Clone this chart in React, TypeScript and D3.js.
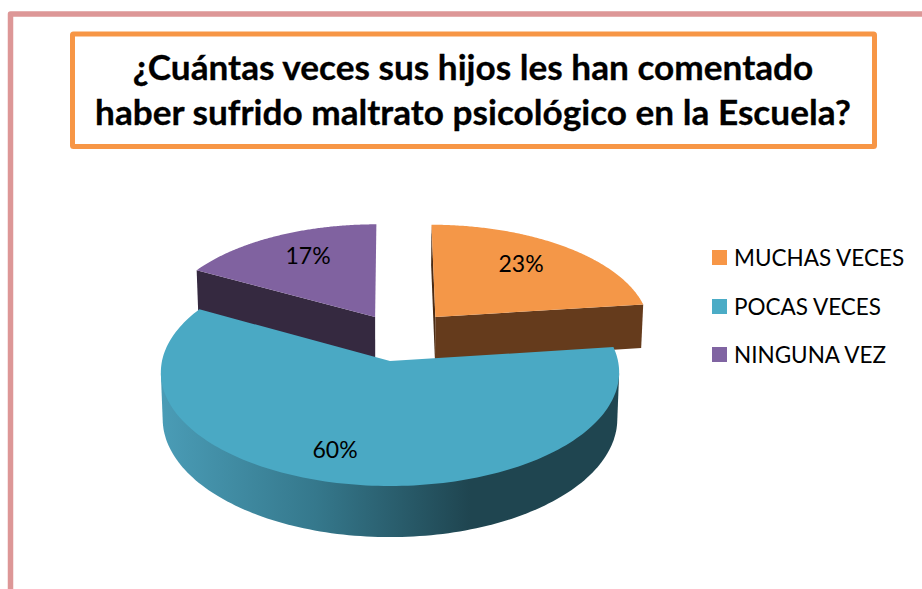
import React from "react";
import * as d3 from "d3";

const categories = ["MUCHAS VECES", "POCAS VECES", "NINGUNA VEZ"];
const values = [23, 60, 17];
const colors = ["#F79646", "#4BACC6", "#8064A2"];
const topColors = ["#F49748", "#4AA9C4", "#8062A0"];
const wallColors = ["#653B1C", "#4A9CB6", "#352940"];
const titleLines = ["¿Cuántas veces sus hijos les han comentado", "haber sufrido maltrato psicológico en la Escuela?"];
const explodeU = [0.207, 0, -0.068];
const explodeV = [0.408, 0, 0.408];
const sliceRadius = [0.97, 1, 0.975];
const labelX = [521, 335, 308];
const labelY = [272, 458, 264];
const legendY = [250, 299, 347];

const W = 922, H = 589;
const cx = 390, cy = 361, Rx = 228, Ry = 112.5, K = 0.1, DEPTH = 46, BOTTOM_SHRINK = 0.992;
const FONT = "Lato, Carlito, 'Open Sans', sans-serif";

type Pt = [number, number];
const project = (u: number, v: number, bottom = false): Pt => {
  const s = 1 / (1 + K * v);
  return bottom
    ? [cx + Rx * u * s * BOTTOM_SHRINK, cy - Ry * v * s + DEPTH * s]
    : [cx + Rx * u * s, cy - Ry * v * s];
};

const slices = d3.pie<number>().sort(null).startAngle(0).endAngle(2 * Math.PI)(values);
const line = d3.line<Pt>();

const rimAngles = (i: number) => {
  const { startAngle, endAngle } = slices[i];
  return d3.range(0, 161).map((k) => startAngle + ((endAngle - startAngle) * k) / 160);
};
const rimPoint = (i: number, a: number, bottom = false): Pt => {
  const r = sliceRadius[i];
  return project(explodeU[i] + r * Math.sin(a), explodeV[i] + r * Math.cos(a), bottom);
};
const topFace = (i: number) =>
  line([project(explodeU[i], explodeV[i]), ...rimAngles(i).map((a) => rimPoint(i, a))]) + "Z";
const face = (i: number, angle: number) => {
  const u = explodeU[i], v = explodeV[i], r = sliceRadius[i];
  const eu = u + r * Math.sin(angle), ev = v + r * Math.cos(angle);
  return line([project(u, v), project(eu, ev), project(eu, ev, true), project(u, v, true)]) + "Z";
};
// The outline of the front wall is the hull of the near part of the top and bottom rims.
const curvedWall = (i: number) => {
  const near = rimAngles(i).filter((a) => Math.cos(a) <= -K);
  const pts = [...near.map((a) => rimPoint(i, a)), ...near.map((a) => rimPoint(i, a, true))];
  return line(d3.polygonHull(pts) as Pt[]) + "Z";
};

export default function App() {
  return (
    <svg width={W} height={H} style={{ position: "absolute", left: 0, top: 0, background: "#fff" }}>
      <defs>
        <linearGradient id="blueWall" gradientUnits="userSpaceOnUse" x1={162} x2={470} y1={0} y2={0}>
          <stop offset="0" stopColor="#4A9CB6" />
          <stop offset="0.5" stopColor="#35788C" />
          <stop offset="1" stopColor="#1F4550" />
        </linearGradient>
      </defs>
      <path d={`M10.5,${H}V14H${W}`} fill="none" stroke="#DD9797" strokeWidth={5.5} strokeLinejoin="round" />
      <rect x={72.5} y={34} width={802} height={112.5} fill="#fff" stroke="#F79646" strokeWidth={5} rx={1} />
      {titleLines.map((t, i) => (
        <text key={t} x={473} y={80 + i * 45} textAnchor="middle" fontFamily={FONT} fontWeight={700} fontSize={35.2} fill="#000" stroke="#000" strokeWidth={0.3}>
          {t}
        </text>
      ))}

      {/* orange */}
      <path d={face(0, slices[0].startAngle)} fill="#4A2B14" />
      <path d={face(0, slices[0].endAngle)} fill={wallColors[0]} />
      <path d={topFace(0)} fill={topColors[0]} />
      {/* purple */}
      <path d={face(2, slices[2].startAngle)} fill={wallColors[2]} />
      <path d={topFace(2)} fill={topColors[2]} />
      {/* blue */}
      <path d={curvedWall(1)} fill="url(#blueWall)" />
      <path d={topFace(1)} fill={topColors[1]} />

      {values.map((v, i) => (
        <text key={i} x={labelX[i]} y={labelY[i]} textAnchor="middle" fontFamily={FONT} fontSize={23} fill="#000">
          {v}%
        </text>
      ))}

      {categories.map((c, i) => (
        <g key={c}>
          <rect x={712} y={legendY[i]} width={15} height={15} fill={colors[i]} />
          <text x={734} y={legendY[i] + 16} fontFamily={FONT} fontSize={22.5} fill="#000">
            {c}
          </text>
        </g>
      ))}
    </svg>
  );
}
